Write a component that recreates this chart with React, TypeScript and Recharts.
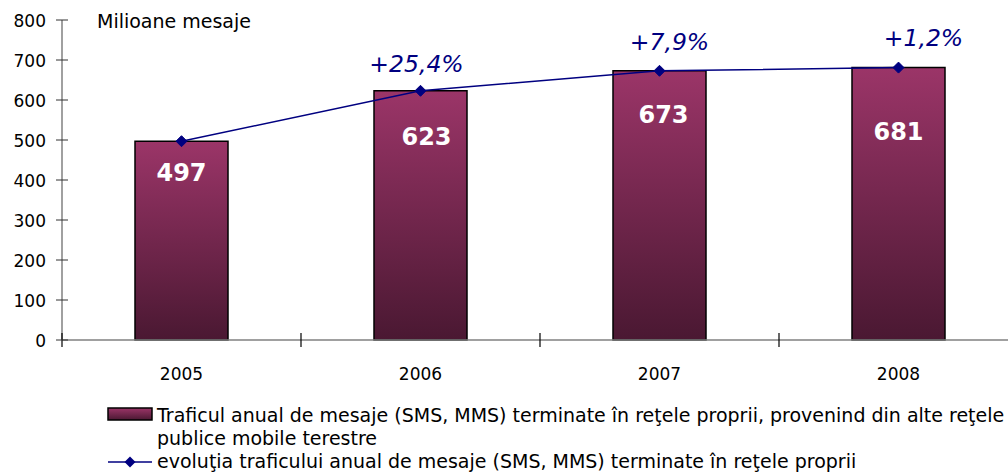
import React from 'react';
import { ComposedChart, Bar, Line, XAxis, YAxis, LabelList, Legend } from 'recharts';

const years = ['2005', '2006', '2007', '2008'];
const traffic = [497, 623, 673, 681];
const growth = ['', '+25,4%', '+7,9%', '+1,2%'];
const yTicks = [0, 100, 200, 300, 400, 500, 600, 700, 800];
const unitLabel = 'Milioane mesaje';
const barLegendLines = [
  'Traficul anual de mesaje (SMS, MMS) terminate în reţele proprii, provenind din alte reţele',
  'publice mobile terestre',
];
const lineLegend = 'evoluţia traficului anual de mesaje (SMS, MMS) terminate în reţele proprii';

const data = years.map((y, i) => ({ year: y, traffic: traffic[i], growth: growth[i] }));

const FONT = '"DejaVu Sans", Verdana, sans-serif';
const NAVY = '#000080';
const Y_GAP = 16;
const TEXT_SIZE = 19;

// label nudges (style only)
const barLabelNudge = [
  { dx: 0, dy: 40 },
  { dx: 6, dy: 54 },
  { dx: 4, dy: 52 },
  { dx: 0, dy: 72 },
];
const growthNudge = [
  { dx: 0, dy: 0 },
  { dx: -4, dy: -19 },
  { dx: 10, dy: -21 },
  { dx: 25, dy: -22 },
];

const YTick = (props: any) => {
  const { x, y, payload } = props;
  const ax = x + Y_GAP;
  return (
    <g>
      <line x1={ax - 6} x2={ax + 6} y1={y} y2={y} stroke="#333" strokeWidth={1} />
      <text x={x} y={y + 7} textAnchor="end" fontFamily={FONT} fontSize={17} fill="#000">
        {payload.value}
      </text>
    </g>
  );
};

const XTick = (props: any) => {
  const { x, y, payload } = props;
  const off = payload && typeof payload.offset === 'number' ? payload.offset : null;
  return (
    <g>
      {off !== null && (
        <line x1={x - off} x2={x - off} y1={y - 7} y2={y + 7} stroke="#000" strokeWidth={1.2} />
      )}
      <text x={x} y={y + 40} textAnchor="middle" fontFamily={FONT} fontSize={17} fill="#000">
        {payload.value}
      </text>
    </g>
  );
};

const Diamond = (props: any) => {
  const { cx, cy } = props;
  if (cx == null || cy == null) return null;
  const s = 5.5;
  return (
    <polygon
      points={`${cx},${cy - s} ${cx + s},${cy} ${cx},${cy + s} ${cx - s},${cy}`}
      fill={NAVY}
      stroke={NAVY}
    />
  );
};

const BarValueLabel = (props: any) => {
  const { x, y, width, value, index } = props;
  const n = barLabelNudge[index] || { dx: 0, dy: 45 };
  return (
    <text
      x={x + width / 2 + n.dx}
      y={y + n.dy}
      textAnchor="middle"
      fontFamily={FONT}
      fontWeight="bold"
      fontSize={24}
      fill="#fff"
    >
      {value}
    </text>
  );
};

const GrowthLabel = (props: any) => {
  const { x, y, value, index } = props;
  if (!value) return null;
  const n = growthNudge[index] || { dx: 0, dy: -20 };
  return (
    <text
      x={x + n.dx}
      y={y + n.dy}
      textAnchor="middle"
      fontFamily={FONT}
      fontStyle="italic"
      fontSize={23.5}
      fill={NAVY}
    >
      {value}
    </text>
  );
};

const UnitLabel = (props: any) => {
  const vb = props.viewBox || { x: 0, y: 20, width: 62 };
  return (
    <text x={vb.x + vb.width + 35} y={vb.y + 8} fontFamily={FONT} fontSize={TEXT_SIZE} fill="#000">
      {unitLabel}
    </text>
  );
};

const LegendContent = () => (
  <svg width={1008} height={78} style={{ display: 'block' }}>
    <defs>
      <linearGradient id="legGrad" x1="0" y1="0" x2="0" y2="1">
        <stop offset="0%" stopColor="#9b3568" />
        <stop offset="100%" stopColor="#4a1832" />
      </linearGradient>
    </defs>
    <rect x={108} y={10} width={44} height={12} fill="url(#legGrad)" stroke="#000" strokeWidth={1.5} />
    <text x={157} y={24} fontFamily={FONT} fontSize={TEXT_SIZE} fill="#000">
      {barLegendLines[0]}
    </text>
    <text x={157} y={47} fontFamily={FONT} fontSize={TEXT_SIZE} fill="#000">
      {barLegendLines[1]}
    </text>
    <line x1={108} x2={152} y1={64} y2={64} stroke={NAVY} strokeWidth={1.5} />
    <polygon points="130,58.5 135.5,64 130,69.5 124.5,64" fill={NAVY} />
    <text x={157} y={70} fontFamily={FONT} fontSize={TEXT_SIZE} fill="#000">
      {lineLegend}
    </text>
  </svg>
);

export default function App() {
  return (
    <div
      style={{
        position: 'absolute',
        left: 0,
        top: 0,
        width: 1008,
        height: 476,
        overflow: 'hidden',
        background: '#fff',
      }}
    >
      <ComposedChart
        width={1030}
        height={476}
        data={data}
        margin={{ top: 20, right: 12, bottom: 0, left: 0 }}
      >
        <defs>
          <linearGradient id="barGrad" x1="0" y1="0" x2="0" y2="1">
            <stop offset="0%" stopColor="#9b3568" />
            <stop offset="100%" stopColor="#4a1832" />
          </linearGradient>
        </defs>
        <XAxis
          dataKey="year"
          height={136}
          axisLine={{ stroke: '#808080', strokeWidth: 1.5 }}
          tickLine={false}
          tickSize={0}
          tickMargin={0}
          tick={<XTick />}
          interval={0}
        />
        <YAxis
          width={62}
          domain={[0, 800]}
          ticks={yTicks}
          axisLine={{ stroke: '#808080', strokeWidth: 1.5 }}
          tickLine={false}
          tickSize={0}
          tickMargin={Y_GAP}
          tick={<YTick />}
          interval={0}
          label={<UnitLabel />}
        />
        <Legend
          layout="horizontal"
          verticalAlign="middle"
          align="center"
          content={<LegendContent />}
          wrapperStyle={{ position: 'absolute', left: 0, top: 398, width: 1008 }}
        />
        <Bar
          dataKey="traffic"
          fill="url(#barGrad)"
          stroke="#000"
          strokeWidth={1.5}
          barSize={93}
          isAnimationActive={false}
        >
          <LabelList dataKey="traffic" content={<BarValueLabel />} />
        </Bar>
        <Line
          dataKey="traffic"
          stroke={NAVY}
          strokeWidth={1.5}
          dot={<Diamond />}
          activeDot={false}
          isAnimationActive={false}
        >
          <LabelList dataKey="growth" content={<GrowthLabel />} />
        </Line>
      </ComposedChart>
    </div>
  );
}
